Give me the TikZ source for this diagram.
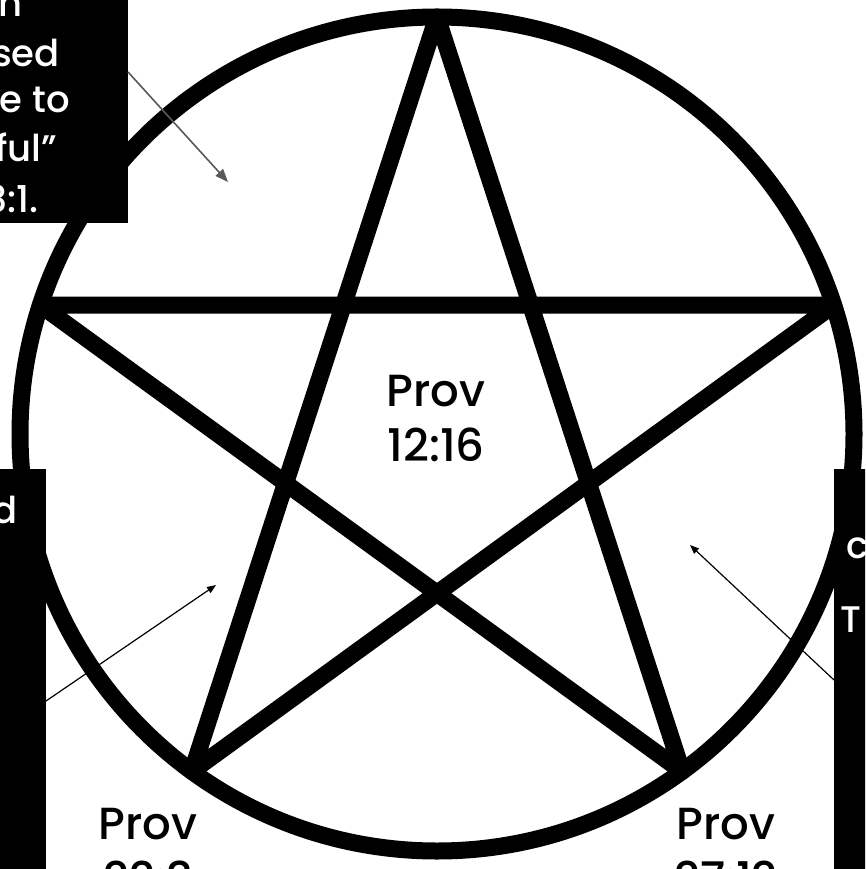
\documentclass[tikz,border=0pt]{standalone}
\usepackage{fontspec}
\setmainfont{Poppins}[UprightFont=* Medium]
\usetikzlibrary{arrows.meta}
\begin{document}
\begin{tikzpicture}[x=1pt,y=-1pt,
  heavy/.style={line width=17pt,line join=round,black},
  blackbox/.style={fill=black,draw=none},
  boxtext/.style={text=white,inner sep=0pt,font=\fontsize{37}{48}\selectfont},
  bigtext/.style={text=black,inner sep=0pt,align=center,font=\fontsize{45}{55}\selectfont},
  grayarrow/.style={draw={rgb,255:red,89;green,89;blue,89},line width=1.6pt,-{Triangle[length=13pt,width=10pt]}},
  blackarrow/.style={draw=black,line width=1.2pt,-{Triangle[length=9pt,width=7pt]}}]
\useasboundingbox (0,0) rectangle (865,869);
\clip (0,0) rectangle (865,869);
\fill[white] (0,0) rectangle (865,869);
% circle and pentagram
\coordinate (c) at (437,434);
\draw[heavy] (c) circle[radius=417];
\coordinate (vt) at (437,17);
\coordinate (vl) at (40.4,305.1);
\coordinate (vr) at (833.6,305.1);
\coordinate (vbl) at (191.9,771.4);
\coordinate (vbr) at (682.1,771.4);
\draw[heavy] (vt) -- (vbl) -- (vr) -- (vl) -- (vbr) -- cycle;
% labels
\node[bigtext] (t1) at (436,419) {Prov\\12:16};
\node[bigtext] (t2) at (148,852) {Prov\\22:3};
\node[bigtext] (t3) at (726,852) {Prov\\27:12};
% top-left box
\node[blackbox,minimum width=228pt,minimum height=353pt,inner sep=0pt,anchor=south east] (b1) at (128,223) {};
\node[boxtext,anchor=base east] (b1l1) at (23,17) {n};
\node[boxtext,anchor=base east] (b1l2) at (60,67) {sed};
\node[boxtext,anchor=base east] (b1l3) at (70,113) {e to};
\node[boxtext,anchor=base east] (b1l4) at (57,162) {ful”};
\node[boxtext,anchor=base east] (b1l5) at (39,212) {3:1.};
\coordinate (a1s) at (128,72);
\coordinate (a1e) at (228,182);
\draw[grayarrow] (a1s) -- (a1e);
% left box
\node[blackbox,minimum width=146pt,minimum height=450pt,inner sep=0pt,anchor=north east] (b2) at (46,469) {};
\node[boxtext,anchor=base east] (b2l1) at (18,523) {d};
\coordinate (a2s) at (46,701);
\coordinate (a2e) at (216,585);
\draw[blackarrow] (a2s) -- (a2e);
% right box
\node[blackbox,minimum width=146pt,minimum height=450pt,inner sep=0pt,anchor=north west] (b3) at (834,469) {};
\node[boxtext,anchor=base west] (b3l1) at (846,558) {c};
\node[boxtext,anchor=base west] (b3l2) at (840,632) {T};
\coordinate (a3s) at (834,680);
\coordinate (a3e) at (690,545);
\draw[blackarrow] (a3s) -- (a3e);
\end{tikzpicture}
\end{document}
